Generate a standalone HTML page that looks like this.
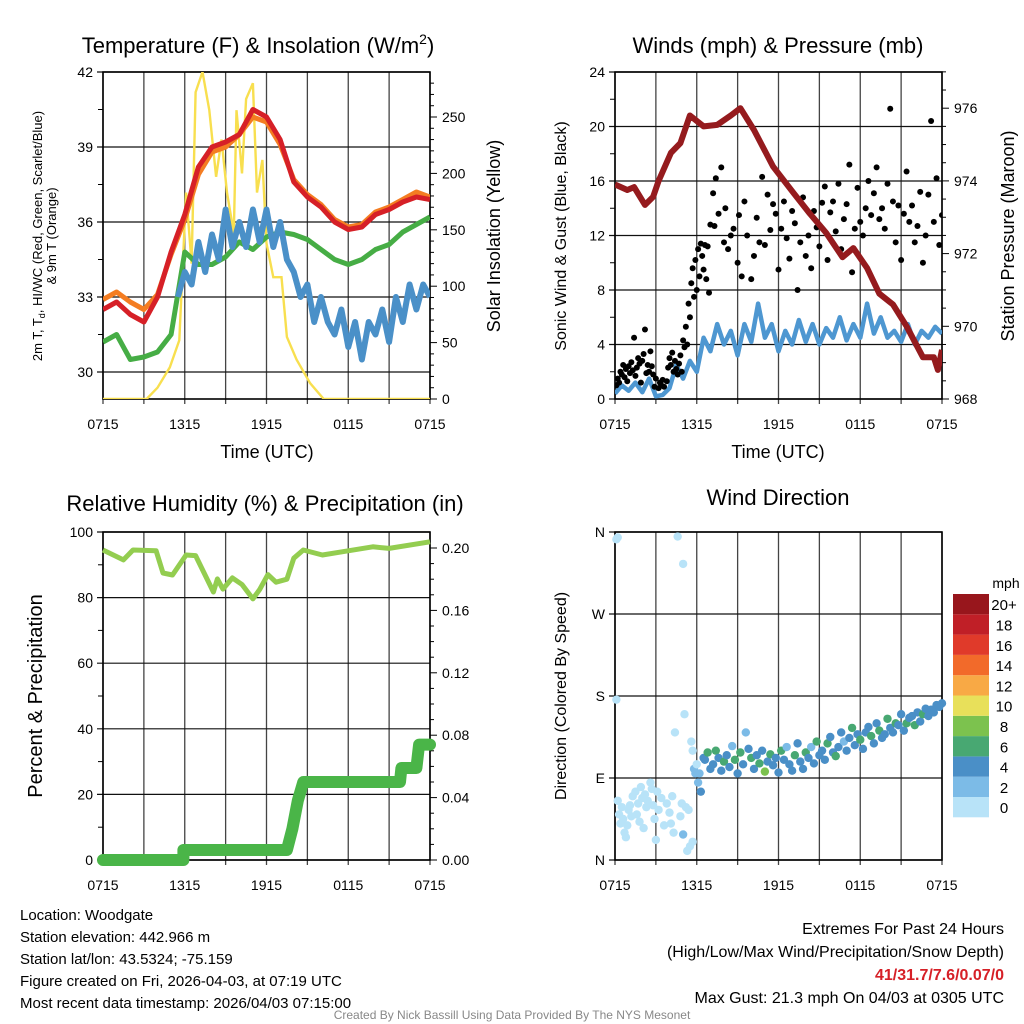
<!DOCTYPE html>
<html><head><meta charset="utf-8"><style>
html,body{margin:0;padding:0;background:#fff;}
svg{display:block;font-family:"Liberation Sans",Arial,sans-serif;}
</style></head><body>
<svg id="chart" width="1024" height="1024" viewBox="0 0 1024 1024"></svg>
<script>
// ---------- DATA ----------
const hourTicks = ["0715","1315","1915","0115","0715"];
const tempHours = [0,1,2,3,4,5,6,7,8,9,10,11,12,13,14,15,16,17,18,19,20,21,22,23,24];
const tempRed    = [32.5,32.8,32.3,32.0,33.0,34.8,36.3,38.2,39.0,39.2,39.5,40.5,40.2,39.3,37.6,37.0,36.6,36.0,35.7,35.8,36.3,36.5,36.8,37.0,36.9];
const tempOrange = [32.9,33.2,32.8,32.5,33.1,34.7,36.1,37.9,38.8,39.0,39.5,40.2,40.0,39.1,37.7,37.1,36.7,36.1,35.8,35.9,36.4,36.6,36.9,37.2,37.0];
const tempGreen  = [31.2,31.5,30.5,30.6,30.8,31.5,34.8,34.3,34.3,34.6,35.2,34.9,35.4,35.6,35.5,35.3,34.9,34.5,34.3,34.5,34.9,35.1,35.6,35.9,36.2];
const wcHours = [5.5,6,6.5,7,7.5,8,8.5,9,9.5,10,10.5,11,11.5,12,12.5,13,13.5,14,14.5,15,15.5,16,16.5,17,17.5,18,18.5,19,19.5,20,20.5,21,21.5,22,22.5,23,23.5,24];
const wcBlue = [33.0,34.0,33.5,35.2,34.0,35.5,34.5,36.5,35.0,36.0,35.0,36.5,35.2,36.5,35.0,36.0,34.5,34.0,33.0,33.5,32.0,33.0,32.0,31.5,32.5,31.0,32.0,30.5,32.0,31.5,32.5,31.2,33.0,32.0,33.5,32.5,33.5,33.0];
const solarHours = [0,3.2,4,4.9,5.6,6.1,6.5,6.8,7.3,7.8,8.3,8.7,9.1,9.6,9.8,10.2,10.5,11,11.3,11.7,12,12.5,13.1,13.5,14.2,15.2,16.2,24];
const solarVals  = [0,0,10,28,52,183,120,272,290,256,197,230,183,147,256,200,266,280,183,212,138,108,108,55,35,14,0,0];

const presHours = [0,0.9,1.4,2.2,2.8,3.2,4.1,4.8,5.5,6.5,7.5,8.5,9.2,10.2,11.6,13.1,14.3,15.5,16.7,17.5,18.5,19.4,20.4,21.4,22.6,23.4,23.7,24];
const presVals  = [973.9,973.75,973.83,973.34,973.56,974.0,974.77,975.04,975.8,975.5,975.54,975.8,976.0,975.4,974.4,973.67,973.1,972.57,971.9,972.15,971.6,970.9,970.6,970.0,969.15,969.15,968.8,969.35];
const windHours = [0,0.5,1,1.5,2,2.5,3,3.5,4,4.5,5,5.5,6,6.5,7,7.5,8,8.5,9,9.5,10,10.5,11,11.5,12,12.5,13,13.5,14,14.5,15,15.5,16,16.5,17,17.5,18,18.5,19,19.5,20,20.5,21,21.5,22,22.5,23,23.5,24];
const windVals  = [0.4,1.0,0.6,1.2,0.5,1.5,0.2,0.3,0.8,2.5,1.5,2.8,2.0,4.5,3.5,5.5,4.0,5.0,3.2,5.5,4.2,7.0,4.5,5.5,3.5,5.0,4.0,5.8,4.2,5.5,4.0,5.2,4.5,6.0,4.3,5.5,4.5,7.0,4.8,6.0,4.5,5.0,4.2,5.5,4.0,5.0,4.5,5.3,4.8];
const gustHours = [0.1,0.2,0.3,0.4,0.5,0.6,0.7,0.8,0.9,1.0,1.1,1.2,1.3,1.4,1.5,1.6,1.7,1.8,1.9,2.0,2.1,2.2,2.3,2.4,2.5,2.6,2.7,2.8,2.9,3.0,3.2,3.3,3.4,3.5,3.6,3.8,3.9,4.0,4.1,4.2,4.3,4.4,4.5,4.6,4.7,4.8,4.9,5.0,5.1,5.2,5.3,5.4,5.5,5.6,5.7,5.8,5.9,6.0,6.1,6.2,6.3,6.4,6.5,6.6,6.7,6.8,6.9,7.0,7.2,7.3,7.4,7.6,7.8,8.0,8.1,8.3,8.5,8.7,9.0,9.1,9.3,9.5,9.7,10.0,10.2,10.4,10.6,10.8,11.0,11.2,11.4,11.6,11.8,12.0,12.2,12.4,12.6,12.8,13.0,13.2,13.4,13.6,13.8,14.0,14.2,14.4,14.6,14.8,15.0,15.2,15.4,15.6,15.8,16.0,16.2,16.4,16.6,16.8,17.0,17.2,17.4,17.6,17.8,18.0,18.2,18.4,18.6,18.8,19.0,19.2,19.4,19.6,19.8,20.0,20.2,20.4,20.6,20.8,21.0,21.2,21.4,21.6,21.8,22.0,22.2,22.4,22.6,22.8,23.0,23.2,23.4,23.6,23.8,24.0];
const gustVals  = [1.0,1.5,1.2,2.0,1.8,2.5,1.6,2.2,1.3,2.4,1.9,2.7,2.1,4.5,1.7,2.3,3.0,2.6,1.2,2.8,3.3,5.1,1.9,2.5,2.0,3.5,2.4,1.8,0.9,1.5,0.8,1.2,1.0,1.4,0.9,1.3,2.3,3.0,2.5,3.4,2.0,2.8,2.2,1.8,2.6,3.2,2.0,4.3,3.8,5.3,4.0,7.0,6.0,8.5,9.6,7.5,10.2,8.0,11.0,9.0,11.4,10.5,9.5,11.3,8.8,11.2,7.8,12.8,15.1,12.7,16.2,13.6,17.0,11.5,14.0,11.0,12.0,12.5,10.0,13.5,9.0,14.5,12.0,8.8,10.5,13.3,11.5,16.3,11.3,15.0,12.4,14.3,13.6,9.5,12.5,14.5,11.8,10.3,13.8,12.9,8.0,11.5,14.8,10.5,12.0,9.6,13.8,12.6,11.2,14.4,15.6,10.2,13.7,14.5,12.3,15.8,11.0,13.2,14.3,17.2,9.3,12.5,15.5,13.0,12.0,14.0,16.0,13.5,15.1,17.0,13.2,14.0,12.5,15.8,21.3,14.5,11.5,14.2,10.2,13.6,16.7,13.0,14.2,11.5,12.7,15.2,10.0,12.0,15.0,20.4,13.0,16.2,11.3,13.5];

const rhHours = [0,1.5,2.2,3.9,4.4,5.1,6.1,6.8,8.1,8.4,8.8,9.5,10.2,11,11.5,12.1,12.7,13.5,14,14.7,16.1,17.6,19.8,21,24];
const rhVals  = [94.5,91.5,94.5,94.3,87.5,86.9,93,92.8,81.7,85.7,82.6,86,84,79.6,82.5,87,84.7,85.6,92,94.5,93,94,95.5,95,97];
const precipHours = [0,5.9,5.9,13.5,13.9,14.3,14.7,21.8,21.9,23.0,23.2,24];
const precipVals  = [0,0,0.0064,0.0064,0.02,0.038,0.05,0.05,0.059,0.059,0.074,0.074];

const dirHours = [0.1,0.2,0.1,0.2,0.3,0.4,0.5,0.6,0.7,0.8,0.9,1.0,1.1,1.2,1.3,1.5,1.6,1.7,1.8,1.9,2.0,2.1,2.2,2.3,2.4,2.6,2.7,2.8,2.9,3.0,3.1,3.2,3.4,3.6,3.8,4.0,4.1,4.2,4.3,4.4,4.6,4.8,4.9,5.0,5.0,5.1,5.2,5.3,5.4,5.5,5.6,5.7,5.7,5.8,5.9,6.0,6.1,6.2,6.3,6.5,
 6.6,6.8,7.0,7.2,7.4,7.6,7.8,8.0,8.2,8.4,8.6,8.8,9.0,9.2,9.4,9.6,9.8,10.0,10.2,10.4,10.6,10.8,11.0,11.2,11.4,11.6,11.8,12.0,12.2,12.4,12.6,12.8,13.0,13.2,13.4,13.6,13.8,14.0,14.2,14.4,14.6,14.8,15.0,15.2,15.4,15.6,15.8,16.0,16.2,16.4,16.6,16.8,17.0,17.2,17.4,17.6,17.8,18.0,18.2,18.4,18.6,18.8,19.0,19.2,19.4,19.6,19.8,20.0,20.2,20.4,20.6,20.8,21.0,21.2,21.4,21.6,21.8,22.0,22.2,22.4,22.6,22.8,23.0,23.2,23.4,23.6,23.8,24.0];
const dirVals = [352,354,176,65,50,40,58,45,30,25,38,55,60,48,70,75,50,62,42,80,68,35,72,58,65,85,78,60,45,22,75,55,68,38,62,52,40,70,30,140,355,48,62,28,325,160,58,10,55,15,130,20,120,100,95,105,85,95,75,112,
 110,118,100,105,120,112,98,108,115,102,125,110,95,118,105,140,122,112,100,115,106,120,97,108,116,104,112,96,120,110,124,105,98,115,128,108,100,118,112,124,106,130,115,120,110,128,135,118,114,124,140,130,120,134,145,126,138,132,122,140,146,136,128,150,142,134,138,155,145,140,150,148,160,142,150,156,158,148,162,152,160,166,158,165,162,170,168,172,175,176];
const dirSpeeds = [1,1,1,1,1,1,1,1,1,1,1,1,1,1,1,1,1,1,1,1,1,1,1,1,1,1,1,1,1,1,1,1,1,1,1,1,1,1,1,1,1,1,1,3,1,1,1,1,1,1,1,1,1,3,3,1,3,3,5,5,
 5,7,5,5,7,5,5,7,5,5,3,7,5,7,5,3,5,7,5,5,7,5,9,5,7,5,5,5,7,5,3,5,5,7,5,5,5,7,5,3,5,7,5,5,5,7,5,5,7,5,5,3,5,5,7,5,5,7,5,5,5,7,5,5,7,5,5,7,5,5,7,5,5,5,7,5,5,7,5,5,7,5,5,5,5,5];
const cbLabels = ["0","2","4","6","8","10","12","14","16","18","20+"];
const cbColors = ["#b8e3f8","#7cbbe7","#4a8fc7","#48a872","#7cc24e","#e8e05a","#f8a945","#f26a2a","#e03a2a","#c01f27","#98161c"];

// ---------- HELPERS ----------
const NS="http://www.w3.org/2000/svg";
const svg=document.getElementById('chart');
function mk(tag,attrs,parent){const e=document.createElementNS(NS,tag);for(const k in attrs)e.setAttribute(k,attrs[k]);(parent||svg).appendChild(e);return e;}
function txt(s,x,y,size,anchor,parent,extra){const t=mk('text',Object.assign({x:x,y:y,'font-size':size,'text-anchor':anchor||'middle',fill:'#000'},extra||{}),parent);t.textContent=s;return t;}
function path(xs,ys,fx,fy){return xs.map((h,i)=>(i?'L':'M')+fx(h).toFixed(1)+','+fy(ys[i]).toFixed(1)).join('');}
function colorFor(s){if(s===undefined||s===null||isNaN(s))s=5;return cbColors[Math.max(0,Math.min(10,Math.floor(s/2)))];}

function frame(x0,x1,y0,y1,leftTicks,fy,name){
  const g=mk('g',{});
  
  
  const fx=h=>x0+(x1-x0)*h/24;
  for(let h=0;h<=24;h+=3){mk('line',{x1:fx(h),x2:fx(h),y1:y0,y2:y1+5,stroke:'#444','stroke-width':1.3},g);}
  leftTicks.forEach(v=>{mk('line',{x1:x0-6,x2:x1,y1:fy(v),y2:fy(v),stroke:'#111','stroke-width':1.2},g);});
  hourTicks.forEach((s,i)=>{const l=txt(s,fx(i*6),y1+30,14,'middle',g);});
  mk('rect',{x:x0,y:y0,width:x1-x0,height:y1-y0,fill:'none',stroke:'#000','stroke-width':1.6},g);
  return {g,fx};
}

// ---------- PANEL 1 ----------
(function(){
 const x0=103,x1=430,y0=72,y1=399;
 const fy=v=>72+(42-v)*25, fs=v=>399-v*1.128;
 const cp=mk('clipPath',{id:'c1'}); mk('rect',{x:x0,y:y0,width:x1-x0,height:y1-y0},cp);
 const {g,fx}=frame(x0,x1,y0,y1,[30,33,36,39,42],fy,'temperature-panel');
 for(let v=31.5;v<42;v+=3) mk('line',{x1:x0-5,x2:x0,y1:fy(v),y2:fy(v),stroke:'#000'},g);
 [30,33,36,39,42].forEach(v=>{const t=txt(String(v),x0-10,fy(v)+5,14,'end',g);});
 for(let v=0;v<=280;v+=10){const m=v%50===0;mk('line',{x1:x1,x2:x1+(m?7:4),y1:fs(v),y2:fs(v),stroke:'#000'},g);if(m){const t=txt(String(v),x1+12,fs(v)+5,14,'start',g);}}
 const pg=mk('g',{'clip-path':'url(#c1)'},g);
 const s1=mk('path',{d:path(solarHours,solarVals,fx,fs),fill:'none',stroke:'#f8df4f','stroke-width':2.4},pg);
 
 const s2=mk('path',{d:path(tempHours,tempOrange,fx,fy),fill:'none',stroke:'#f47d22','stroke-width':5,'stroke-linejoin':'round'},pg);
 
 const s3=mk('path',{d:path(tempHours,tempRed,fx,fy),fill:'none',stroke:'#d62027','stroke-width':5,'stroke-linejoin':'round'},pg);
 
 const s4=mk('path',{d:path(tempHours,tempGreen,fx,fy),fill:'none',stroke:'#46ad45','stroke-width':5,'stroke-linejoin':'round'},pg);
 
 const s5=mk('path',{d:path(wcHours,wcBlue,fx,fy),fill:'none',stroke:'#4a90c8','stroke-width':6,'stroke-linejoin':'round'},pg);
 
 const t=txt('Temperature (F) & Insolation (W/m',258,53,22,'middle');
 const sup=mk('tspan',{dy:-9,'font-size':14},t);sup.textContent='2';const cl=mk('tspan',{dy:9},t);cl.textContent=')';
 const a=mk('text',{transform:'translate(42,236) rotate(-90)','font-size':13,'text-anchor':'middle'});
 a.innerHTML='2m T, T<tspan dy="3" font-size="9">d</tspan><tspan dy="-3">, HI/WC (Red, Green, Scarlet/Blue)</tspan>';
 const a2=txt('& 9m T (Orange)',0,0,13,'middle',null,{transform:'translate(56,236) rotate(-90)'});
 const r=txt('Solar Insolation (Yellow)',0,0,18,'middle',null,{transform:'translate(500,236) rotate(-90)'});
 const xt=txt('Time (UTC)',267,458,18);
})();

// ---------- PANEL 2 ----------
(function(){
 const x0=615,x1=942,y0=72,y1=399;
 const fy=v=>399-v*13.625, fp=v=>399-(v-968)*36.35;
 const cp=mk('clipPath',{id:'c2'}); mk('rect',{x:x0,y:y0,width:x1-x0,height:y1-y0},cp);
 const {g,fx}=frame(x0,x1,y0,y1,[0,4,8,12,16,20,24],fy,'winds-panel');
 for(let v=2;v<24;v+=4) mk('line',{x1:x0-5,x2:x0,y1:fy(v),y2:fy(v),stroke:'#000'},g);
 [0,4,8,12,16,20,24].forEach(v=>{const t=txt(String(v),x0-10,fy(v)+5,14,'end',g);});
 for(let v=968;v<=977;v+=0.5){const m=Math.abs(v%2)<0.01;mk('line',{x1:x1,x2:x1+(m?7:4),y1:fp(v),y2:fp(v),stroke:'#000'},g);if(m){const t=txt(String(v),x1+12,fp(v)+5,14,'start',g);}}
 const pg=mk('g',{'clip-path':'url(#c2)'},g);
 const w=mk('path',{d:path(windHours,windVals,fx,fy),fill:'none',stroke:'#4e97d1','stroke-width':4.5,'stroke-linejoin':'round'},pg);
 
 gustHours.forEach((h,i)=>{const c=mk('circle',{cx:fx(h),cy:fy(gustVals[i]),r:3,fill:'#000'},pg);
  
  });
 const p=mk('path',{d:path(presHours,presVals,fx,fp),fill:'none',stroke:'#951b1e','stroke-width':6,'stroke-linejoin':'round'},pg);
 
 const t=txt('Winds (mph) & Pressure (mb)',778,53,22);
 const a=txt('Sonic Wind & Gust (Blue, Black)',0,0,16,'middle',null,{transform:'translate(566,236) rotate(-90)'});
 const r=txt('Station Pressure (Maroon)',0,0,18,'middle',null,{transform:'translate(1014,236) rotate(-90)'});
 const xt=txt('Time (UTC)',778,458,18);
})();

// ---------- PANEL 3 ----------
(function(){
 const x0=103,x1=430,y0=532,y1=860;
 const fy=v=>860-v*3.28, fp=v=>860-v*1560;
 const cp=mk('clipPath',{id:'c3'}); mk('rect',{x:x0-10,y:y0,width:x1-x0+20,height:y1-y0+10},cp);
 const {g,fx}=frame(x0,x1,y0,y1,[0,20,40,60,80,100],fy,'humidity-panel');
 for(let v=10;v<100;v+=20) mk('line',{x1:x0-5,x2:x0,y1:fy(v),y2:fy(v),stroke:'#000'},g);
 [0,20,40,60,80,100].forEach(v=>{const t=txt(String(v),x0-10,fy(v)+5,14,'end',g);});
 for(let i=0;i<=20;i++){const v=i/100,m=i%4===0;mk('line',{x1:x1,x2:x1+(m?7:4),y1:fp(v),y2:fp(v),stroke:'#000'},g);if(m){const t=txt(v.toFixed(2),x1+12,fp(v)+5,14,'start',g);}}
 const pg=mk('g',{'clip-path':'url(#c3)'},g);
 const r=mk('path',{d:path(rhHours,rhVals,fx,fy),fill:'none',stroke:'#93cd50','stroke-width':5,'stroke-linejoin':'round'},pg);
 
 const p=mk('path',{d:path(precipHours,precipVals,fx,fp),fill:'none',stroke:'#4ab548','stroke-width':12,'stroke-linejoin':'round','stroke-linecap':'round'},pg);
 
 const t=txt('Relative Humidity (%) & Precipitation (in)',265,511,22);
 const a=txt('Percent & Precipitation',0,0,20,'middle',null,{transform:'translate(42,696) rotate(-90)'});
})();

// ---------- PANEL 4 ----------
(function(){
 const x0=615,x1=942,y0=532,y1=860;
 const fy=v=>860-v*(328/360);
 const {g,fx}=frame(x0,x1,y0,y1,[0,90,180,270,360],fy,'wind-direction-panel');
 const labs=['N','E','S','W','N'];
 [0,90,180,270,360].forEach((v,i)=>{const t=txt(labs[i],x0-10,fy(v)+5,14,'end',g);});
 dirHours.forEach((h,i)=>{const c=mk('circle',{cx:fx(h),cy:fy(dirVals[i]),r:4.2,fill:colorFor(dirSpeeds[i])},g);
  
  });
 const t=txt('Wind Direction',778,505,22);
 const a=txt('Direction (Colored By Speed)',0,0,16,'middle',null,{transform:'translate(566,696) rotate(-90)'});
 const cb=mk('g',{});
 const top=594,bh=20.3;
 cbColors.forEach((c,i)=>{const y=top+(10-i)*bh;mk('rect',{x:953,y:y,width:36,height:bh,fill:c},cb);
  const l=txt(cbLabels[i],1004,y+bh/2+6,15,'middle',cb);});
 const u=txt('mph',1006,588,14,'middle',cb);
})();

// ---------- FOOTER ----------
const info=["Location: Woodgate","Station elevation: 442.966 m","Station lat/lon: 43.5324; -75.159","Figure created on Fri, 2026-04-03, at 07:19 UTC","Most recent data timestamp: 2026/04/03 07:15:00"];
info.forEach((s,i)=>{const t=txt(s,20,920+i*22,15,'start');});
[["Extremes For Past 24 Hours",934,'#000','normal'],["(High/Low/Max Wind/Precipitation/Snow Depth)",957,'#000','normal'],["41/31.7/7.6/0.07/0",980,'#d62027','bold'],["Max Gust: 21.3 mph On 04/03 at 0305 UTC",1003,'#000','normal']].forEach(r=>{
 const t=txt(r[0],1004,r[1],16,'end',null,{fill:r[2],'font-weight':r[3]});});
const cr=txt('Created By Nick Bassill Using Data Provided By The NYS Mesonet',512,1019,12,'middle',null,{fill:'#888'});

</script>
</body></html>
